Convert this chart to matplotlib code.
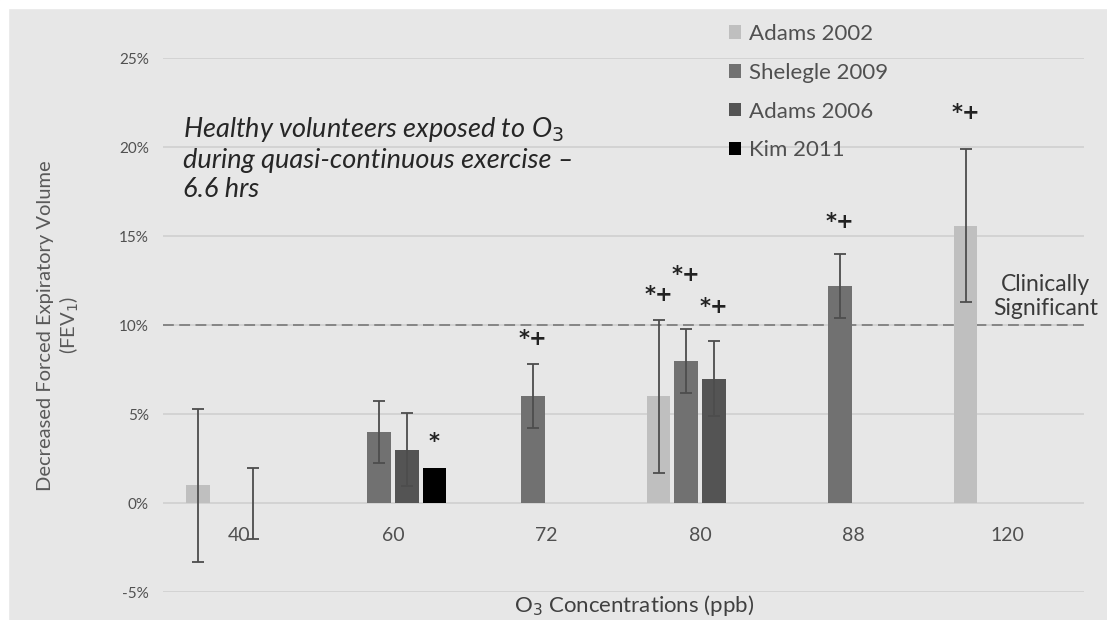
import numpy as np
import matplotlib.pyplot as plt
from matplotlib.patches import Rectangle

plt.rcParams['font.family'] = ['Lato', 'DejaVu Sans']

concentrations = ['40', '60', '72', '80', '88', '120']
studies = ['Adams 2002', 'Shelegle 2009', 'Adams 2006', 'Kim 2011']

nan = np.nan
# decrease in FEV1 (%), one list per study, one value per concentration
adams2002 = [1.0, nan, nan, 6.0, nan, 15.6]
shelegle2009 = [nan, 4.0, 6.0, 8.0, 12.2, nan]
adams2006 = [0.0, 3.0, nan, 7.0, nan, nan]
kim2011 = [nan, 2.0, nan, nan, nan, nan]

# error bar half widths (%)
adams2002_err = [4.3, nan, nan, 4.3, nan, 4.3]
shelegle2009_err = [nan, 1.75, 1.8, 1.8, 1.8, nan]
adams2006_err = [2.0, 2.05, nan, 2.1, nan, nan]
kim2011_err = [nan, nan, nan, nan, nan, nan]

# significance marks
adams2002_sig = ['', '', '', '*+', '', '*+']
shelegle2009_sig = ['', '', '*+', '*+', '*+', '']
adams2006_sig = ['', '', '', '*+', '', '']
kim2011_sig = ['', '*', '', '', '', '']

values = [adams2002, shelegle2009, adams2006, kim2011]
errors = [adams2002_err, shelegle2009_err, adams2006_err, kim2011_err]
marks = [adams2002_sig, shelegle2009_sig, adams2006_sig, kim2011_sig]
colors = ['#bfbfbf', '#717171', '#545454', '#000000']
# how far above the error bar each mark sits
mark_lift = [[0, 0, 0, 1.4, 0, 2.0],
             [0, 0, 1.4, 3.0, 1.8, 0],
             [0, 0, 0, 1.9, 0, 0],
             [0, 1.45, 0, 0, 0, 0]]

bg = '#e7e7e7'
fig = plt.figure(figsize=(11.07, 6.2), dpi=100, facecolor=bg)
fig.patches.append(Rectangle((0, 0.987), 1, 0.013, transform=fig.transFigure,
                             color='white', zorder=0))
fig.patches.append(Rectangle((0, 0), 0.007, 1, transform=fig.transFigure,
                             color='white', zorder=0))
ax = fig.add_axes([0.147, 0.045, 0.832, 0.861])
ax.set_facecolor(bg)

x = np.arange(len(concentrations))
slot = 0.18
width = 0.155
for i, (vals, errs, sig) in enumerate(zip(values, errors, marks)):
    xs = x + (i - 1.5) * slot
    v = np.array(vals)
    e = np.array(errs)
    ax.bar(xs, v, width, color=colors[i], label=studies[i], zorder=3)
    ax.errorbar(xs, v, yerr=e, fmt='none', ecolor='#4d4d4d', elinewidth=1.3,
                capsize=4, capthick=1.3, zorder=4)
    for j, s in enumerate(sig):
        if s:
            top = v[j] + (0 if np.isnan(e[j]) else e[j])
            ax.text(xs[j], top + mark_lift[i][j], s, ha='center', va='center',
                    fontsize=15, fontweight='bold', color='#222222',
                    family='DejaVu Sans', zorder=5)

ax.axhline(10, color='#7f7f7f', lw=1.3, ls=(0, (6, 3)), zorder=2)
ax.text(5.25, 11.6, 'Clinically\nSignificant', ha='center', va='center',
        fontsize=16.5, color='#3a3a3a', linespacing=1.15, clip_on=False)

ax.text(-0.37, 21.8, 'Healthy volunteers exposed to O$_3$\n'
        'during quasi-continuous exercise \u2013\n6.6 hrs',
        ha='left', va='top', fontsize=19.5, style='italic', color='#262626',
        linespacing=1.2)

ax.set_xlim(-0.5, len(concentrations) - 0.5)
ax.set_ylim(-5, 25)
ax.set_yticks(range(-5, 30, 5))
ax.set_yticklabels([f'{t}%' for t in range(-5, 30, 5)])
ax.yaxis.grid(True, color='#cfcfcf', lw=1.2, zorder=0)
ax.set_axisbelow(True)
ax.set_xticks(x)
ax.set_xticklabels(concentrations)
ax.spines['bottom'].set_position(('data', 0))
for sp in ax.spines.values():
    sp.set_visible(False)
ax.tick_params(axis='both', length=0, colors='#505050')
ax.tick_params(axis='y', labelsize=11, pad=10)
ax.tick_params(axis='x', labelsize=14, pad=17)

ax.set_ylabel('Decreased Forced Expiratory Volume\n(FEV$_1$)', fontsize=14.5,
              color='#595959', va='center')
ax.yaxis.set_label_coords(-0.113, 0.5)
fig.text(0.573, 0.024, 'O$_3$ Concentrations (ppb)', ha='center', va='center',
         fontsize=16, color='#404040')

ax.legend(loc='upper left', bbox_to_anchor=(0.593, 1.102), frameon=False,
          fontsize=16, labelcolor='#505050', handlelength=0.55,
          handleheight=0.55, handletextpad=0.35, labelspacing=0.85)

plt.savefig('out.png', dpi=100, facecolor=fig.get_facecolor())
